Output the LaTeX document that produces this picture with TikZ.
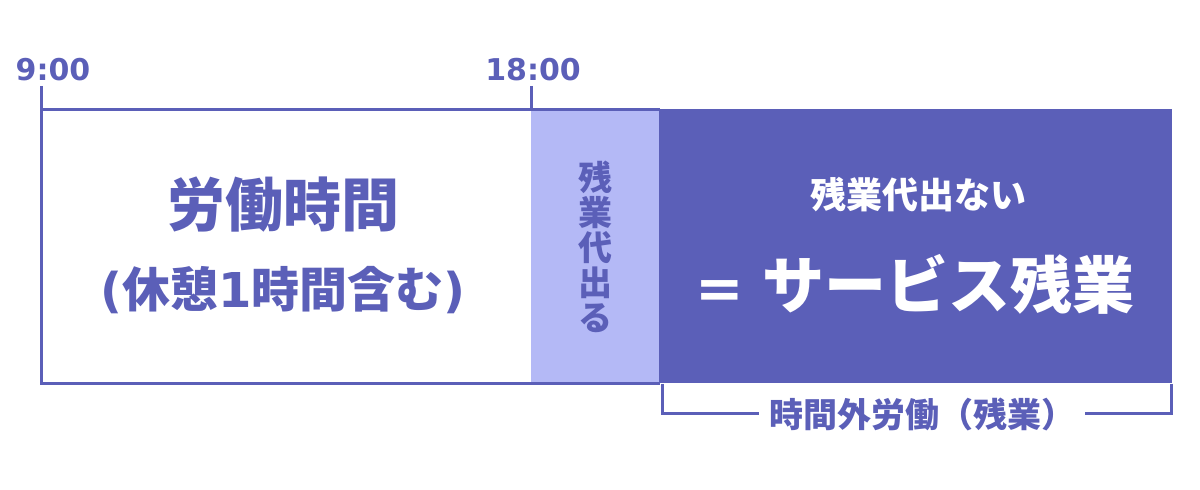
\documentclass[tikz,border=0pt]{standalone}
\usepackage{fontspec}
\setmainfont{Noto Sans CJK JP}
\newfontfamily\dv{DejaVu Sans}
\usetikzlibrary{positioning}
\definecolor{ColMain}{RGB}{91,95,184}
\definecolor{ColLight}{RGB}{180,185,246}
\tikzstyle{Block}=[rectangle,inner sep=0pt,anchor=north west]
\tikzstyle{LineMain}=[ColMain,line width=1.5pt]
\tikzstyle{TextMain}=[ColMain,inner sep=0pt]
\tikzstyle{TextWhite}=[white,inner sep=0pt]
\begin{document}
\begin{tikzpicture}[x=0.5pt,y=-0.5pt]
        \useasboundingbox (0,0) rectangle (1200,490);
        \node[Block,minimum width=245pt,minimum height=136.5pt](work)at(41,110){};
        \node[Block,fill=ColLight,minimum width=64pt,minimum height=136.5pt](paid)at(531,110){};
        \node[Block,fill=ColMain,minimum width=256.5pt,minimum height=137pt](unpaid)at(659,109){};
        \draw[LineMain](work.north west)--(paid.north east);
        \draw[LineMain](work.north west)--(work.south west)--(paid.south east);
        % time marks
        \node[TextMain,font=\dv\bfseries\fontsize{15}{15}\selectfont](t9)at(53,70){9:00};
        \node[TextMain,font=\dv\bfseries\fontsize{15}{15}\selectfont](t18)at(533,70){18:00};
        \coordinate(t9end)at(41,86);
        \coordinate(t18end)at(531,86);
        \draw[LineMain](t9end)--(work.north west);
        \draw[LineMain](t18end)--(paid.north west);
        % texts
        \node[TextMain,font=\bfseries\fontsize{29}{29}\selectfont](wtitle)at(283,205){労働時間};
        \node[TextMain,font=\bfseries\fontsize{24}{24}\selectfont](wsub)at(283,290){{\dv\bfseries(}休憩{\dv\bfseries1}時間含む{\dv\bfseries)}};
        \node[TextMain,align=center,font=\bfseries\fontsize{17}{17.5}\selectfont](paidlbl)at(paid.center){残\\業\\代\\出\\る};
        \node[TextWhite,font=\bfseries\fontsize{18}{18}\selectfont](utitle)at(918,195){残業代出ない};
        \node[TextWhite,font=\bfseries\fontsize{31}{31}\selectfont](usub)at(915,284){{\dv\bfseries\fontsize{29}{29}\selectfont=}\hspace{0.3em}サービス残業};
        % bracket
        \node[TextMain,inner xsep=5pt,font=\bfseries\fontsize{17}{17}\selectfont](ovt)at(922,414){時間外労働（残業）};
        \draw[LineMain]([xshift=1.5pt]unpaid.south west)--([xshift=1.5pt]unpaid.south west|-ovt.west)--(ovt.west);
        \draw[LineMain]([xshift=-0.75pt]unpaid.south east)--([xshift=-0.75pt]unpaid.south east|-ovt.east)--(ovt.east);
    \end{tikzpicture}
\end{document}
